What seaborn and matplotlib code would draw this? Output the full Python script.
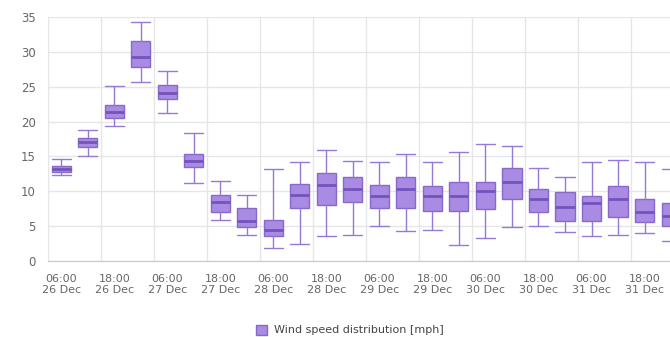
import pandas as pd
import matplotlib
matplotlib.use("Agg")
import matplotlib.pyplot as plt
from matplotlib.patches import Patch
import seaborn as sns

# 6-hourly slots, 26 Dec 06:00 -> 1 Jan 00:00
slots = ["26 Dec 06:00", "26 Dec 12:00", "26 Dec 18:00",
         "27 Dec 00:00", "27 Dec 06:00", "27 Dec 12:00", "27 Dec 18:00",
         "28 Dec 00:00", "28 Dec 06:00", "28 Dec 12:00", "28 Dec 18:00",
         "29 Dec 00:00", "29 Dec 06:00", "29 Dec 12:00", "29 Dec 18:00",
         "30 Dec 00:00", "30 Dec 06:00", "30 Dec 12:00", "30 Dec 18:00",
         "31 Dec 00:00", "31 Dec 06:00", "31 Dec 12:00", "31 Dec 18:00",
         "1 Jan 00:00"]

# wind speed stats per slot [mph]
lows = [12.3, 15.0, 19.4, 25.7, 21.3, 11.2, 5.9, 3.8, 1.8, 2.5, 3.6, 3.8,
        5.0, 4.3, 4.5, 2.3, 3.3, 4.9, 5.0, 4.1, 3.6, 3.7, 4.05, 2.8]
q1s = [12.8, 16.4, 20.5, 27.8, 23.2, 13.5, 7.0, 4.9, 3.6, 7.6, 8.0, 8.5,
       7.6, 7.6, 7.2, 7.2, 7.4, 8.85, 7.1, 5.8, 5.8, 6.3, 5.6, 5.0]
medians = [13.2, 17.0, 21.4, 29.2, 24.1, 14.4, 8.4, 5.7, 4.4, 9.5, 10.9, 10.3,
           9.3, 10.3, 9.3, 9.3, 10.0, 11.4, 8.9, 7.7, 8.3, 8.85, 7.0, 6.45]
q3s = [13.6, 17.6, 22.4, 31.5, 25.2, 15.4, 9.4, 7.6, 5.9, 11.0, 12.6, 12.0,
       10.9, 12.1, 10.8, 11.4, 11.4, 13.3, 10.3, 9.95, 9.3, 10.75, 8.85, 8.3]
highs = [14.6, 18.8, 25.1, 34.3, 27.3, 18.3, 11.5, 9.4, 13.2, 14.2, 15.9, 14.3,
         14.2, 15.4, 14.2, 15.7, 16.8, 16.5, 13.4, 12.0, 14.25, 14.5, 14.25, 13.2]

tick_labels = ["06:00\n26 Dec", "18:00\n26 Dec", "06:00\n27 Dec", "18:00\n27 Dec",
               "06:00\n28 Dec", "18:00\n28 Dec", "06:00\n29 Dec", "18:00\n29 Dec",
               "06:00\n30 Dec", "18:00\n30 Dec", "06:00\n31 Dec", "18:00\n31 Dec"]

rows = []
for i, s in enumerate(slots):
    for v in (lows[i], q1s[i], medians[i], q3s[i], highs[i]):
        rows.append({"slot": s, "speed": v})
df = pd.DataFrame(rows)

sns.set_style("white")
plt.rcParams["font.family"] = ["DejaVu Sans"]

fill = "#a98be3"
edge = "#8769cc"
whisk = "#9579d4"
grid = "#e6e6e6"

fig = plt.figure(figsize=(6.7, 3.37), dpi=100)
ax = fig.add_axes([48 / 670, 76 / 337, 622 / 670, 244 / 337])

sns.boxplot(data=df, x="slot", y="speed", order=slots, whis=(0, 100),
            width=0.72, color=fill, linecolor=edge, linewidth=1, saturation=1,
            medianprops={"linewidth": 2, "color": "#7453bd"},
            whiskerprops={"linewidth": 1, "color": whisk},
            capprops={"linewidth": 1, "color": whisk},
            capwidths=0.72, ax=ax)

ax.set_xlim(-0.5, 22.96)
ax.set_ylim(0, 35)
ax.set_yticks(range(0, 36, 5))
ax.set_xticks(range(0, 24, 2))
ax.set_xticklabels(tick_labels)
ax.set_xticks([x - 0.5 for x in range(0, 24, 2)], minor=True)
ax.set_xlabel("")
ax.set_ylabel("")

ax.set_axisbelow(True)
ax.yaxis.grid(True, color=grid, lw=1)
ax.xaxis.grid(True, which="minor", color=grid, lw=1)
ax.xaxis.grid(False, which="major")

for side in ("top", "right"):
    ax.spines[side].set_visible(False)
ax.spines["left"].set_color(grid)
ax.spines["bottom"].set_color("#c8c8c8")

ax.tick_params(axis="x", which="major", length=0, pad=9, labelsize=8, labelcolor="#666666")
ax.tick_params(axis="x", which="minor", length=6, color="#c8c8c8", width=1)
ax.tick_params(axis="y", length=7, color=grid, pad=2, labelsize=8.5, labelcolor="#666666")

fig.legend(handles=[Patch(facecolor=fill, edgecolor=edge, label="Wind speed distribution [mph]")],
           loc="center", bbox_to_anchor=(350 / 670, 1 - 330 / 337), frameon=False,
           fontsize=8, handlelength=1.0, handleheight=1.0, handletextpad=0.6,
           labelcolor="#444444")

fig.savefig("out.png", dpi=100)
